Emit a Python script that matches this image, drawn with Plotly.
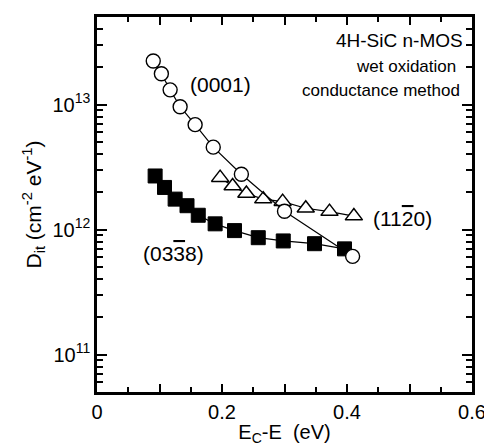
import plotly.graph_objects as go

# (0001) open circles
x_0001 = [0.090, 0.103, 0.117, 0.133, 0.157, 0.186, 0.231, 0.300, 0.409]
y_0001 = [2.23e13, 1.76e13, 1.31e13, 9.6e12, 6.9e12, 4.56e12, 2.77e12, 1.40e12, 6.1e11]

# (11-20) open triangles
x_1120 = [0.197, 0.217, 0.239, 0.266, 0.297, 0.334, 0.372, 0.411]
y_1120 = [2.6e12, 2.23e12, 1.94e12, 1.75e12, 1.67e12, 1.48e12, 1.39e12, 1.28e12]

# (03-38) filled squares
x_0338 = [0.093, 0.108, 0.125, 0.144, 0.162, 0.189, 0.220, 0.258, 0.298, 0.348, 0.396]
y_0338 = [2.68e12, 2.17e12, 1.75e12, 1.55e12, 1.30e12, 1.11e12, 9.8e11, 8.6e11, 8.1e11, 7.7e11, 7.0e11]

x_ticks = [0, 0.1, 0.2, 0.3, 0.4, 0.5, 0.6]
x_ticktext = ["0", "", "0.2", "", "0.4", "", "0.6"]
y_ticks = [1e11, 1e12, 1e13]
y_ticktext = ["10<sup>11</sup>", "10<sup>12</sup>", "10<sup>13</sup>"]
y_minor = [m * 10**e for e in (10, 11, 12, 13) for m in range(2, 10)]

FONT = "Liberation Sans, Arial, sans-serif"
OVL = "<span style='text-decoration:overline'>{}</span>"

fig = go.Figure()
fig.add_trace(go.Scatter(
    x=x_0338, y=y_0338, mode="lines+markers",
    line=dict(color="black", width=1.2),
    marker=dict(symbol="square", size=14, color="black", line=dict(color="black", width=1)),
    showlegend=False))
fig.add_trace(go.Scatter(
    x=x_1120, y=y_1120, mode="lines+markers",
    line=dict(color="black", width=1.2),
    marker=dict(symbol="triangle-up", size=15, color="white", line=dict(color="black", width=1.5)),
    showlegend=False))
fig.add_trace(go.Scatter(
    x=x_0001, y=y_0001, mode="lines+markers",
    line=dict(color="black", width=1.2),
    marker=dict(symbol="circle", size=14, color="white", line=dict(color="black", width=1.4)),
    showlegend=False))

annos = [
    dict(x=0.198, y=13.159, text="(0001)"),
    dict(x=0.488, y=12.087, text="(11" + OVL.format("2") + "0)"),
    dict(x=0.122, y=11.81, text="(03" + OVL.format("3") + "8)"),
]
for a in annos:
    fig.add_annotation(x=a["x"], y=a["y"], xref="x", yref="y", text=a["text"],
                       showarrow=False, font=dict(family=FONT, size=21, color="black"))

fig.add_annotation(x=0.981, y=0.937, xref="paper", yref="paper", text="4H-SiC n-MOS",
                   showarrow=False, xanchor="right", yanchor="middle",
                   font=dict(family=FONT, size=19, color="black"))
fig.add_annotation(x=0.962, y=0.868, xref="paper", yref="paper", text="wet oxidation",
                   showarrow=False, xanchor="right", yanchor="middle",
                   font=dict(family=FONT, size=17, color="black"))
fig.add_annotation(x=0.973, y=0.804, xref="paper", yref="paper", text="conductance method",
                   showarrow=False, xanchor="right", yanchor="middle",
                   font=dict(family=FONT, size=17, color="black"))

fig.update_xaxes(
    range=[0, 0.6], tickvals=x_ticks, ticktext=x_ticktext,
    ticks="inside", ticklen=8, tickwidth=1.5, tickcolor="black",
    showline=True, linewidth=2.5, linecolor="black", mirror="allticks",
    showgrid=False, zeroline=False,
    minor=dict(tickvals=[0.05, 0.15, 0.25, 0.35, 0.45, 0.55], ticks="inside", ticklen=5, tickwidth=1.5, tickcolor="black"),
    tickfont=dict(family=FONT, size=20, color="black"),
    title=dict(text="E<sub>C</sub>-E  (eV)", font=dict(family=FONT, size=20, color="black"), standoff=4),
)
fig.update_yaxes(
    type="log", range=[10.7, 13.7], tickvals=y_ticks, ticktext=y_ticktext,
    ticks="inside", ticklen=10, tickwidth=1.5, tickcolor="black",
    showline=True, linewidth=2.5, linecolor="black", mirror="allticks",
    showgrid=False, zeroline=False,
    minor=dict(tickvals=y_minor, ticks="inside", ticklen=6, tickwidth=1.5, tickcolor="black"),
    tickfont=dict(family=FONT, size=20, color="black"),
    title=dict(text="D<sub>it</sub> (cm<sup>-2</sup> eV<sup>-1</sup>)", font=dict(family=FONT, size=21, color="black"), standoff=6),
)

# page body has an 8px default margin, so the figure is offset by 8px
fig.update_layout(
    width=484, height=439,
    margin=dict(l=89, r=18, t=6, b=55),
    paper_bgcolor="white", plot_bgcolor="white",
)

fig.write_html("out.html")
